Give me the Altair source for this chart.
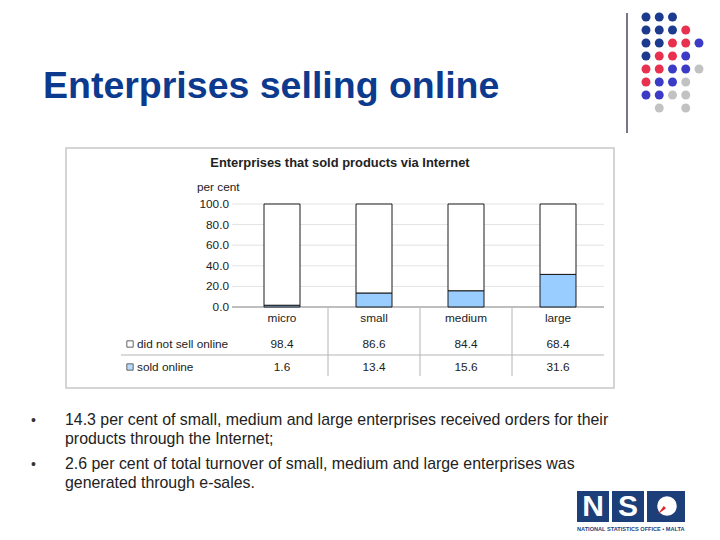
import altair as alt
import pandas as pd

# ---------------- data ----------------
categories = ["micro", "small", "medium", "large"]
series_names = ["did not sell online", "sold online"]
did_not_sell = [98.4, 86.6, 84.4, 68.4]
sold_online = [1.6, 13.4, 15.6, 31.6]
y_ticks = [0, 20, 40, 60, 80, 100]

slide_title = "Enterprises selling online"
chart_title = "Enterprises that sold products via Internet"
y_unit = "per cent"
bullets = [
    ["14.3 per cent of small, medium and large enterprises received orders for their",
     "products  through the Internet;"],
    ["2.6 per cent of total turnover of small, medium and large enterprises was",
     "generated through e-sales."],
]
logo_rows = ["NNN..", "NNNR.", "NNRRB", "NRRB.", "RRBBG", "RBBG.", "BBGG.", ".G.G."]
logo_letters = ["N", "S"]
logo_caption = "NATIONAL STATISTICS OFFICE \u2022 MALTA"

FONT = "Liberation Sans"
OFF = 8  # page margin

def px(v):
    return v - OFF

# ---------------- tables ----------------
bars = pd.DataFrame(
    [{"cat": c, "series": series_names[0], "value": v, "ord": 1} for c, v in zip(categories, did_not_sell)]
    + [{"cat": c, "series": series_names[1], "value": v, "ord": 0} for c, v in zip(categories, sold_online)]
)
ticks_df = pd.DataFrame({"t": y_ticks})
cats_df = pd.DataFrame({"cat": categories})
sep_df = pd.DataFrame({"cat": categories[:-1]})
series_df = pd.DataFrame({"series": series_names})
one = pd.DataFrame({"k": [0]})

dots = []
for r, row in enumerate(logo_rows):
    for c, ch in enumerate(row):
        if ch != ".":
            dots.append({"row": r, "col": c, "k": ch})
dots_df = pd.DataFrame(dots)

# ---------------- scales ----------------
xs = alt.Scale(domain=categories, range=[px(236), px(604)], paddingInner=0, paddingOuter=0)
ys = alt.Scale(domain=[0, 100], range=[px(307), px(204)], nice=False, zero=True)
rows_s = alt.Scale(domain=series_names, range=[px(344), px(367)], padding=0)
fill_s = alt.Scale(domain=series_names, range=["#ffffff", "#99ccff"])

base_bar = alt.Chart(bars)
layers = []

# chart box
layers.append(alt.Chart(one).mark_rect(fill="white", stroke="#c8c8c8", strokeWidth=1.5).encode(
    x=alt.value(px(66)), x2=alt.value(px(614)), y=alt.value(px(148)), y2=alt.value(px(388))))

# gridlines
layers.append(alt.Chart(ticks_df).mark_rule(color="#e3e3e3", strokeWidth=1).encode(
    y=alt.Y("t:Q", scale=ys, axis=None), x=alt.value(px(232)), x2=alt.value(px(604))))
# axis line at zero
layers.append(alt.Chart(pd.DataFrame({"t": [0]})).mark_rule(color="#8c8c8c", strokeWidth=1).encode(
    y=alt.Y("t:Q", scale=ys, axis=None), x=alt.value(px(232)), x2=alt.value(px(604))))

# y tick labels
layers.append(alt.Chart(ticks_df).mark_text(align="right", baseline="middle", font=FONT, fontSize=11.8, color="#222").encode(
    y=alt.Y("t:Q", scale=ys, axis=None), x=alt.value(px(229)), text=alt.Text("t:Q", format=".1f")))

# stacked bars
layers.append(base_bar.mark_bar(size=36, stroke="#1a1a1a", strokeWidth=1).encode(
    x=alt.X("cat:N", scale=xs, axis=None, sort=categories),
    y=alt.Y("value:Q", stack="zero", scale=ys, axis=None),
    fill=alt.Fill("series:N", scale=fill_s, legend=None),
    order=alt.Order("ord:Q"),
))

# data table: category labels
layers.append(alt.Chart(cats_df).mark_text(baseline="middle", font=FONT, fontSize=11.8, color="#222").encode(
    x=alt.X("cat:N", scale=xs, axis=None, sort=categories), y=alt.value(px(318)), text="cat:N"))
# separators
layers.append(alt.Chart(sep_df).mark_rule(color="#b4b4b4", strokeWidth=1).encode(
    x=alt.X("cat:N", scale=xs, axis=None, sort=categories, bandPosition=1),
    y=alt.value(px(308)), y2=alt.value(px(376))))
# horizontal line between rows
layers.append(alt.Chart(one).mark_rule(color="#b4b4b4", strokeWidth=1).encode(
    y=alt.value(px(355)), x=alt.value(px(121)), x2=alt.value(px(604))))
# table values
layers.append(base_bar.mark_text(baseline="middle", font=FONT, fontSize=11.8, color="#222").encode(
    x=alt.X("cat:N", scale=xs, axis=None, sort=categories),
    y=alt.Y("series:N", scale=rows_s, axis=None),
    text=alt.Text("value:Q", format=".1f")))
# legend keys
layers.append(alt.Chart(series_df).mark_point(shape="square", size=40, filled=True, stroke="#222", strokeWidth=1).encode(
    x=alt.value(px(130)), y=alt.Y("series:N", scale=rows_s, axis=None),
    fill=alt.Fill("series:N", scale=fill_s, legend=None)))
layers.append(alt.Chart(series_df).mark_text(align="left", baseline="middle", font=FONT, fontSize=11.8, color="#222").encode(
    x=alt.value(px(137)), y=alt.Y("series:N", scale=rows_s, axis=None), text="series:N"))

# chart title and unit
layers.append(alt.Chart(one).mark_text(align="center", baseline="middle", font=FONT, fontSize=12.9, fontWeight="bold", color="#222").encode(
    x=alt.value(px(340)), y=alt.value(px(163)), text=alt.value(chart_title)))
layers.append(alt.Chart(one).mark_text(align="left", baseline="middle", font=FONT, fontSize=11.8, color="#222").encode(
    x=alt.value(px(197)), y=alt.value(px(187)), text=alt.value(y_unit)))

# slide title
layers.append(alt.Chart(one).mark_text(align="left", baseline="alphabetic", font=FONT, fontSize=37.5, fontWeight="bold", color="#0c3a8e").encode(
    x=alt.value(px(43)), y=alt.value(px(98)), text=alt.value(slide_title)))

# bullets
line_y = [[425, 444], [469, 488]]
for b, lines in enumerate(bullets):
    layers.append(alt.Chart(one).mark_text(align="left", baseline="alphabetic", font=FONT, fontSize=14, color="#333").encode(
        x=alt.value(px(31)), y=alt.value(px(line_y[b][0])), text=alt.value("\u2022")))
    for li, txt in enumerate(lines):
        layers.append(alt.Chart(one).mark_text(align="left", baseline="alphabetic", font=FONT, fontSize=15.9, color="#222").encode(
            x=alt.value(px(65)), y=alt.value(px(line_y[b][li])), text=alt.value(txt)))

# dot logo
layers.append(alt.Chart(one).mark_rule(color="#1a1a40", strokeWidth=1.2).encode(
    x=alt.value(px(627)), y=alt.value(px(13)), y2=alt.value(px(133))))
layers.append(alt.Chart(dots_df).mark_circle(size=80, opacity=1).encode(
    x=alt.X("col:Q", scale=alt.Scale(domain=[0, 4], range=[px(646), px(699)]), axis=None),
    y=alt.Y("row:Q", scale=alt.Scale(domain=[0, 7], range=[px(17), px(108)]), axis=None),
    color=alt.Color("k:N", scale=alt.Scale(domain=["N", "R", "B", "G"],
                                           range=["#1c3a8e", "#e8304f", "#3b3bc6", "#c2c2c2"]), legend=None)))

# NSO logo
sq_x = [(577, 609), (612, 644), (647, 685)]
for i, (a, b) in enumerate(sq_x):
    layers.append(alt.Chart(one).mark_rect(fill="#1c3f7a").encode(
        x=alt.value(px(a)), x2=alt.value(px(b)), y=alt.value(px(491)), y2=alt.value(px(522))))
for i, letter in enumerate(logo_letters):
    a, b = sq_x[i]
    layers.append(alt.Chart(one).mark_text(align="center", baseline="middle", font=FONT, fontSize=30, fontWeight="bold", color="white").encode(
        x=alt.value(px((a + b) / 2)), y=alt.value(px(507)), text=alt.value(letter)))
layers.append(alt.Chart(one).mark_point(shape="circle", size=380, filled=True, color="white", opacity=1).encode(
    x=alt.value(px(667)), y=alt.value(px(506))))
layers.append(alt.Chart(one).mark_point(shape="M -1 1 L 0.15 -0.55 L 0.55 -0.15 Z", size=120, filled=True, color="#e0202a", opacity=1).encode(
    x=alt.value(px(663)), y=alt.value(px(509))))
layers.append(alt.Chart(one).mark_text(align="left", baseline="middle", font=FONT, fontSize=5.6, fontWeight="bold", color="#1c3f7a").encode(
    x=alt.value(px(577)), y=alt.value(px(529)), text=alt.value(logo_caption)))

chart = alt.layer(*layers).resolve_scale(
    x="independent", y="independent", color="independent", fill="independent"
).properties(
    width=704, height=524, padding=0, background="white",
    autosize=alt.AutoSizeParams(type="none")
).configure_view(stroke=None, strokeWidth=0)

chart.save("out.html", embed_options={"renderer": "svg", "actions": False})
